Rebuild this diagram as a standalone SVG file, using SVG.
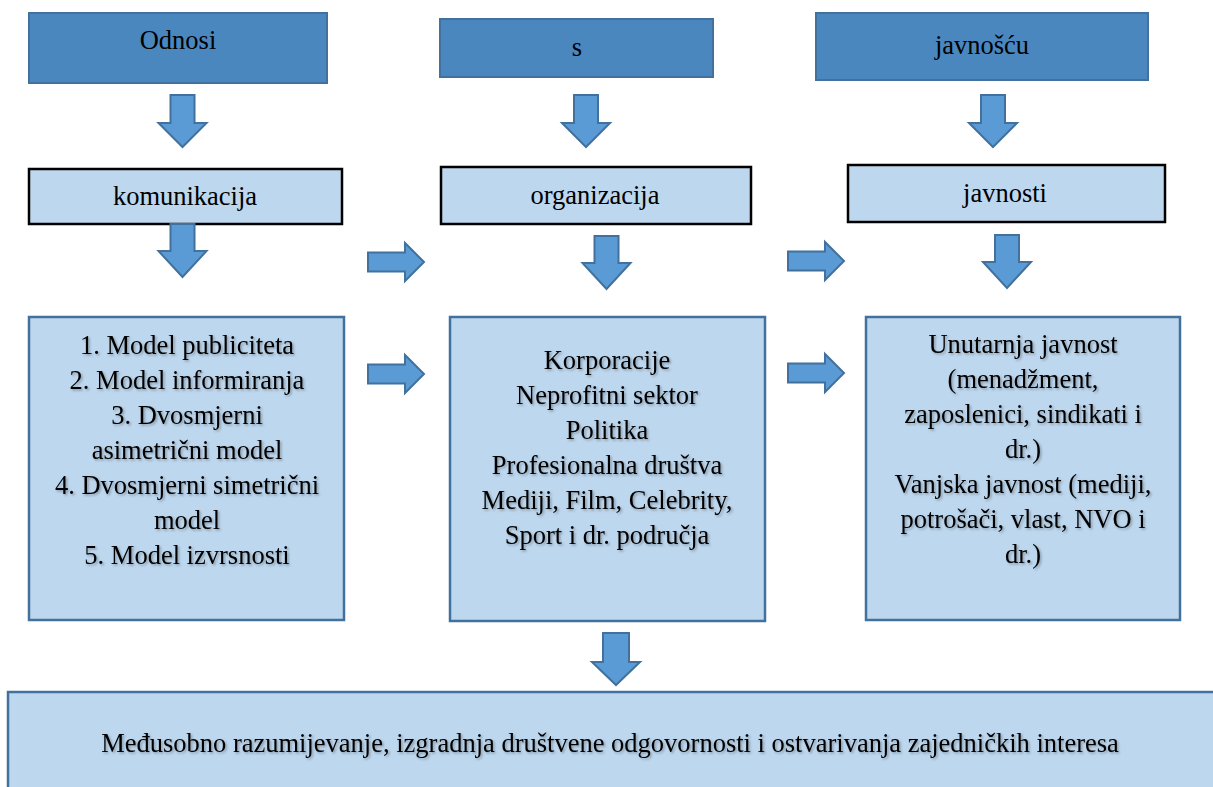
<svg xmlns="http://www.w3.org/2000/svg" width="1213" height="787" viewBox="0 0 1213 787">
<defs>
<filter id="sh" x="-5%" y="-20%" width="110%" height="140%">
<feDropShadow dx="1.5" dy="1.5" stdDeviation="1" flood-color="#000" flood-opacity="0.3"/>
</filter>
</defs>
<style>
.top{fill:#4a87bf;stroke:#41719c;stroke-width:2}
.mid{fill:#bdd7ee;stroke:#000;stroke-width:2.5}
.big{fill:#bdd7ee;stroke:#41719c;stroke-width:2.5}
.arr{fill:#5b9bd5;stroke:#41719c;stroke-width:2;stroke-linejoin:miter}
text{font-family:"Liberation Serif","Times New Roman",serif;font-size:26.5px;fill:#000;text-anchor:middle}
.t{filter:url(#sh)}
</style>
<rect width="1213" height="787" fill="#fff"/>
<g id="odnosi"><rect class="top" x="29" y="13" width="298" height="70"/><text x="178" y="49">Odnosi</text></g>
<g id="s"><rect class="top" x="440" y="19" width="273" height="58"/><text x="577" y="56">s</text></g>
<g id="javnoscu"><rect class="top" x="816" y="13" width="332" height="67"/><text x="982" y="54">javnošću</text></g>
<g id="komunikacija"><rect class="mid" x="29" y="169" width="313" height="55"/><text x="185" y="205">komunikacija</text></g>
<g id="organizacija"><rect class="mid" x="441" y="167" width="310" height="57"/><text x="595" y="204">organizacija</text></g>
<g id="javnosti"><rect class="mid" x="848" y="165" width="317" height="57"/><text x="1005" y="202">javnosti</text></g>
<g id="modeli"><rect class="big" x="29" y="317" width="315" height="303"/>
<g class="t"><text x="187" y="354">1. Model publiciteta</text><text x="187" y="389">2. Model informiranja</text><text x="187" y="424">3. Dvosmjerni</text><text x="187" y="459">asimetrični model</text><text x="187" y="494">4. Dvosmjerni simetrični</text><text x="187" y="529">model</text><text x="187" y="564">5. Model izvrsnosti</text></g></g>
<g id="organizacije"><rect class="big" x="450" y="317" width="315" height="304"/>
<g class="t"><text x="607" y="369">Korporacije</text><text x="607" y="404">Neprofitni sektor</text><text x="607" y="439">Politika</text><text x="607" y="474">Profesionalna društva</text><text x="607" y="509">Mediji, Film, Celebrity,</text><text x="607" y="544">Sport i dr. područja</text></g></g>
<g id="javnosti-vrste"><rect class="big" x="866" y="317" width="314" height="303"/>
<g class="t"><text x="1023" y="353">Unutarnja javnost</text><text x="1023" y="388">(menadžment,</text><text x="1023" y="423">zaposlenici, sindikati i</text><text x="1023" y="458">dr.)</text><text x="1023" y="493">Vanjska javnost (mediji,</text><text x="1023" y="528">potrošači, vlast, NVO i</text><text x="1023" y="563">dr.)</text></g></g>
<g id="rezultat"><rect class="big" x="8" y="692" width="1220" height="110"/>
<text class="t" x="610" y="752">Međusobno razumijevanje, izgradnja društvene odgovornosti i ostvarivanja zajedničkih interesa</text></g>
<g id="connectors">
<path class="arr" d="M170.5 95H194.5V123H206.5L182.5 147L158.5 123H170.5Z"/>
<path class="arr" d="M574 95H598V123H610L586 147L562 123H574Z"/>
<path class="arr" d="M981 95H1005V123H1017L993 147L969 123H981Z"/>
<path class="arr" d="M170.5 224H194.5V251H206.5L182.5 277L158.5 251H170.5Z"/>
<path class="arr" d="M594.5 236H618.5V263H630.5L606.5 289L582.5 263H594.5Z"/>
<path class="arr" d="M995 235H1019V262H1031L1007 288L983 262H995Z"/>
<path class="arr" d="M603 633H629V662H640L616 685L592 662H603Z"/>
<path class="arr" d="M368 252.5H405V243L424 262L405 281V271.5H368Z"/>
<path class="arr" d="M368 364.5H405V355L424 374L405 393V383.5H368Z"/>
<path class="arr" d="M788 251.5H825V242L844 261L825 280V270.5H788Z"/>
<path class="arr" d="M788 363.5H825V354L844 373L825 392V382.5H788Z"/>
</g>
</svg>
